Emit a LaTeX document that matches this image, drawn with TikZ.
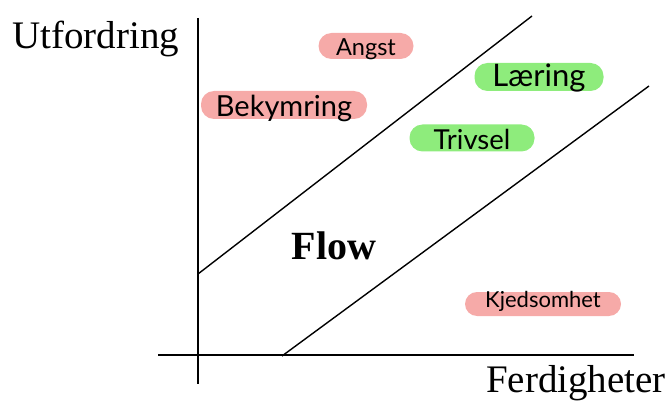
\documentclass[tikz,border=0pt]{standalone}
\usepackage{fontspec}
\setmainfont{Liberation Serif}
\newfontfamily\handfont{Lato}
\definecolor{pinkpill}{RGB}{246,170,168}
\definecolor{greenpill}{RGB}{142,236,124}
\begin{document}
\begin{tikzpicture}[x=1pt,y=-1pt,
  axis/.style={line width=1.8pt},
  diag/.style={line width=1.4pt},
  pill/.style={rounded corners=13pt, inner sep=0pt, text depth=0pt},
  badpill/.style={pill, fill=pinkpill},
  goodpill/.style={pill, fill=greenpill},
  axlabel/.style={font=\fontsize{39}{42}\selectfont, inner sep=0pt}]
\useasboundingbox (0,0) rectangle (670,401);
% axes
\coordinate (ytop) at (198,18);
\coordinate (ybot) at (198,384);
\coordinate (xl) at (158,355);
\coordinate (xr) at (634,355);
\draw[axis] (ytop) -- (ybot);
\draw[axis] (xl) -- (xr);
% diagonals
\coordinate (u1) at (198,274);
\coordinate (u2) at (532,16);
\coordinate (l1) at (282,356);
\coordinate (l2) at (649,86);
\draw[diag] (u1) -- (u2);
\draw[diag] (l1) -- (l2);
% axis labels
\node[axlabel, anchor=base west] (yl) at (12,49) {Utfordring};
\node[axlabel, anchor=base east] (xlab) at (666,392) {Ferdigheter};
\node[font=\fontsize{40}{44}\selectfont\bfseries, inner sep=0pt] (flow) at (334,246) {Flow};
% pills
\node[badpill, minimum width=95pt, minimum height=26pt, text height=20pt, font=\handfont\fontsize{23.5}{26}\selectfont] (angst) at (366,46) {Angst};
\node[badpill, minimum width=166pt, minimum height=28pt, text height=24pt, font=\handfont\fontsize{29}{32}\selectfont] (bek) at (284,105) {Bekymring};
\node[goodpill, minimum width=129pt, minimum height=28pt, text height=20pt, font=\handfont\fontsize{31}{34}\selectfont] (laer) at (539,77) {Læring};
\node[goodpill, minimum width=125pt, minimum height=27pt, text height=24pt, font=\handfont\fontsize{27.5}{30}\selectfont] (triv) at (472,138) {Trivsel};
\node[badpill, rounded corners=12pt, minimum width=156pt, minimum height=24pt, text height=6pt, font=\handfont\fontsize{22}{24}\selectfont] (kjed) at (543,304) {Kjedsomhet};
\end{tikzpicture}
\end{document}
